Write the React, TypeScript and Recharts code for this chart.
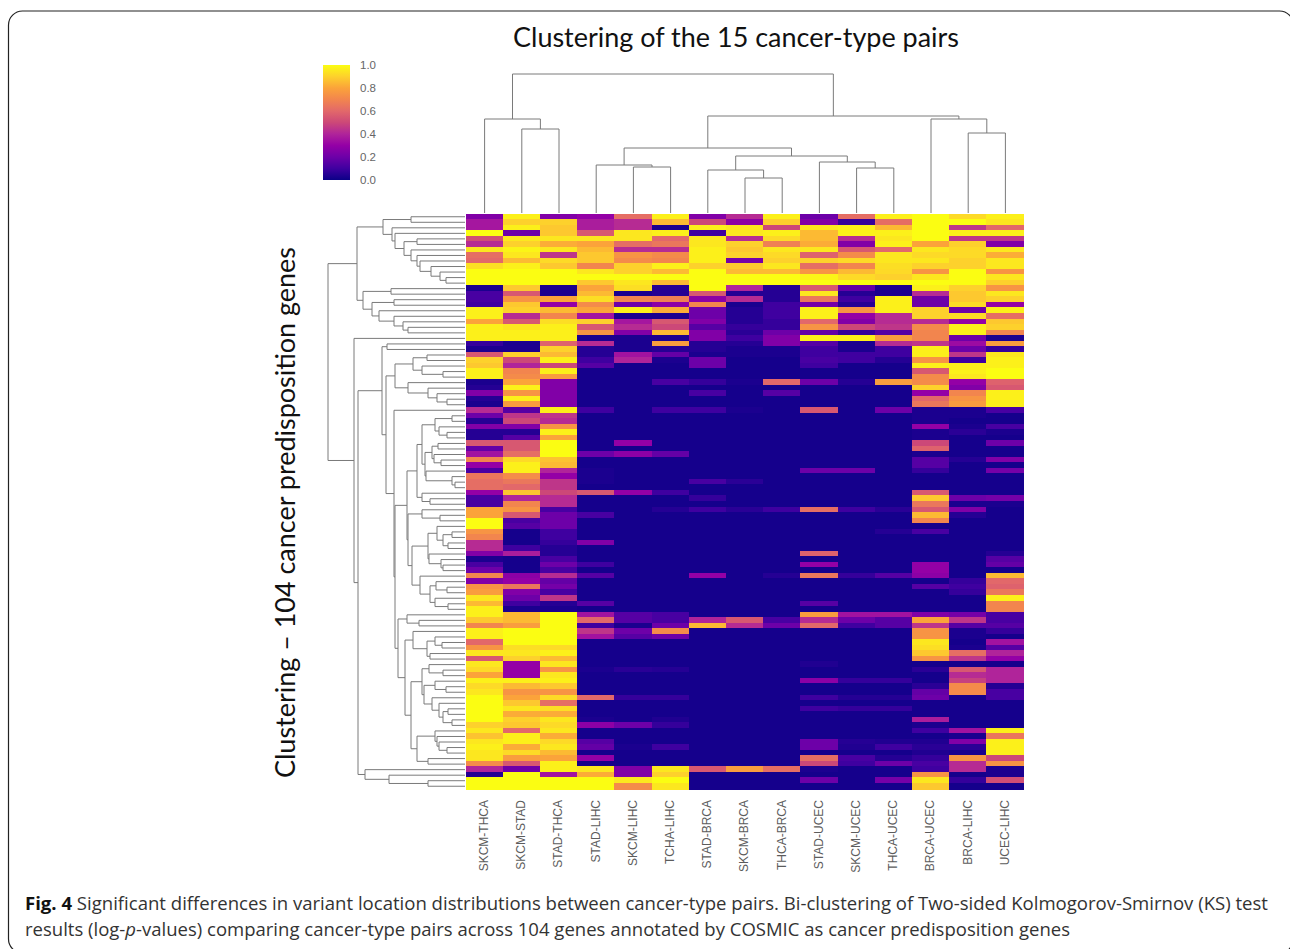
import { Bar, BarChart, Cell, Scatter, ScatterChart, XAxis, YAxis } from "recharts";

// pair names, left to right
const pairs = [
  "SKCM-THCA", "SKCM-STAD", "STAD-THCA", "STAD-LIHC", "SKCM-LIHC",
  "TCHA-LIHC", "STAD-BRCA", "SKCM-BRCA", "THCA-BRCA", "STAD-UCEC",
  "SKCM-UCEC", "THCA-UCEC", "BRCA-UCEC", "BRCA-LIHC", "UCEC-LIHC",
];

// one array per pair, 104 genes top to bottom
const skcmThca = [
  .25,.36,.36,1,.52,.42,.95,.62,.6,.93,1,1,1,.03,.12,.12,.1,.97,.97,.8,.97,.97,.97,.08,.03,.55,
  .9,.88,.97,.97,.03,.05,.25,.05,.03,.42,.2,.05,.25,.05,.05,.55,.18,.35,.7,.3,.12,.65,.62,.62,.3,.12,
  .12,.8,.8,1,1,.75,.7,.42,.42,.25,.03,.12,.2,.7,.25,.75,.78,.95,.85,.97,.97,.88,.7,.97,.97,.6,
  .75,.95,.55,.95,.92,.8,.97,.92,.95,1,1,1,1,1,.9,.95,.87,.95,.97,.95,.95,.72,.4,.05,1,1,
];
const skcmStad = [
  .97,.9,.97,.2,.95,.9,.98,.95,.85,.97,1,1,1,.88,.55,.75,.88,.9,.42,.55,.95,.97,.97,.03,.03,.9,
  .5,.4,.7,.72,.8,.97,.75,.97,.78,.15,.45,.5,.25,.05,.15,.55,.55,.62,.92,.97,.97,.72,.65,.6,.87,.4,
  .7,.75,.55,.12,.15,.02,.02,.02,.1,.38,.02,.02,.02,.28,.3,.65,.25,.2,.1,.03,.85,.85,.78,1,1,1,
  .93,.95,.9,.3,.3,.3,.97,.85,.75,.8,.88,.95,.82,.9,.88,.6,.97,.97,.82,.92,.78,.55,.2,1,1,1,
];
const stadThca = [
  .25,.9,.88,.88,.95,.82,.95,.45,.92,.88,1,1,1,.03,.03,.8,.3,.85,.7,.93,.97,.97,.97,.58,.9,.85,
  .97,.5,.97,.78,.25,.25,.25,.25,.25,.97,.45,.42,.75,.97,.8,1,1,1,.87,.85,.4,.3,.45,.45,.5,.42,
  .42,.12,.2,.2,.2,.1,.1,.08,.05,.05,.12,.2,.12,.42,.18,.22,.12,.45,.05,.03,1,1,1,1,1,1,
  .92,.97,.85,.95,.75,.95,.97,.88,.75,.92,.62,.93,.82,.95,.92,.95,.82,.92,.95,.85,.8,.97,.97,.35,1,1,
];
const stadLihc = [
  .3,.38,.38,.55,.95,.8,.85,.88,.88,.7,.95,1,.88,.8,.85,.93,.72,.8,.35,.9,.55,.75,.03,.42,.05,.05,
  .1,.15,.02,.02,.02,.02,.02,.02,.02,.1,.02,.02,.02,.02,.02,.02,.02,.2,.02,.02,.03,.03,.03,.02,.55,.02,
  .02,.02,.12,.02,.02,.02,.02,.25,.02,.02,.02,.1,.02,.15,.02,.02,.02,.02,.15,.02,.35,.6,.1,.45,.35,.02,
  .02,.02,.02,.02,.03,.02,.02,.02,.02,.6,.02,.02,.02,.03,.28,.02,.02,.15,.18,.02,.3,.02,.95,.82,1,1,
];
const skcmLihc = [
  .62,.42,.42,.95,.95,.62,.42,.75,.72,.9,.9,1,.95,.93,.03,.7,.2,.97,.03,.36,.42,.25,.03,.03,.03,.35,
  .4,.02,.02,.02,.02,.02,.02,.02,.02,.02,.02,.02,.02,.02,.02,.3,.02,.28,.02,.02,.02,.02,.02,.02,.3,.02,
  .02,.02,.02,.02,.02,.02,.02,.02,.02,.02,.02,.02,.02,.02,.02,.02,.02,.02,.02,.02,.15,.15,.03,.2,.15,.02,
  .02,.02,.02,.02,.06,.02,.02,.02,.02,.08,.02,.02,.02,.02,.2,.02,.02,.02,.03,.02,.02,.02,.25,.25,.95,.72,
];
const tchaLihc = [
  .97,.85,.03,.97,.6,.65,.42,.72,.7,.97,.85,1,.85,.05,.05,.68,.28,.82,.03,.55,.5,.85,.03,.78,.05,.18,
  .03,.02,.02,.02,.12,.02,.02,.02,.02,.1,.02,.02,.02,.02,.02,.02,.02,.18,.02,.02,.02,.02,.02,.02,.1,.02,
  .02,.05,.02,.02,.02,.02,.02,.02,.02,.02,.02,.02,.02,.02,.02,.02,.02,.02,.02,.02,.12,.12,.2,.72,.2,.02,
  .02,.02,.02,.02,.05,.02,.02,.02,.02,.08,.02,.02,.02,.04,.08,.02,.02,.02,.1,.02,.02,.02,.95,.9,1,.95,
];
const stadBrca = [
  .25,.5,.97,.1,.95,.95,.97,.97,.97,.9,1,1,1,1,.55,.28,.7,.2,.2,.25,.15,.25,.25,.05,.05,.03,
  .2,.2,.02,.02,.08,.02,.12,.02,.02,.1,.02,.02,.02,.02,.02,.02,.02,.02,.02,.02,.02,.02,.12,.02,.02,.08,
  .02,.1,.02,.02,.02,.02,.02,.02,.02,.02,.02,.02,.02,.3,.02,.02,.02,.02,.02,.02,.02,.4,.85,.02,.02,.02,
  .02,.02,.02,.02,.02,.02,.02,.02,.02,.02,.02,.02,.02,.02,.02,.02,.02,.02,.02,.02,.02,.02,.55,.02,.02,.02,
];
const skcmBrca = [
  .42,.28,.95,.95,.42,.9,.88,.9,.22,.88,.85,1,1,.4,.05,.42,.03,.05,.05,.05,.08,.06,.1,.05,.03,.03,
  .02,.02,.02,.02,.03,.02,.02,.02,.02,.03,.02,.02,.02,.02,.02,.02,.02,.02,.02,.02,.02,.02,.06,.02,.02,.02,
  .02,.06,.02,.02,.02,.02,.02,.02,.02,.02,.02,.02,.02,.02,.02,.02,.02,.02,.02,.02,.02,.55,.42,.02,.02,.02,
  .02,.02,.02,.02,.02,.02,.02,.02,.02,.02,.02,.02,.02,.02,.02,.02,.02,.02,.02,.02,.02,.02,.78,.02,.02,.02,
];
const thcaBrca = [
  .97,.9,.5,.97,.92,.68,.95,.92,.9,.95,.85,1,1,.05,.05,.05,.1,.1,.1,.08,.08,.2,.25,.25,.03,.03,
  .02,.02,.02,.02,.6,.02,.15,.02,.02,.02,.02,.02,.02,.02,.02,.02,.02,.02,.02,.02,.02,.02,.02,.02,.02,.02,
  .02,.1,.02,.02,.02,.02,.02,.02,.02,.02,.02,.02,.02,.05,.02,.02,.02,.02,.02,.02,.02,.12,.2,.02,.02,.02,
  .02,.02,.02,.02,.02,.02,.02,.02,.02,.02,.02,.02,.02,.02,.02,.02,.02,.02,.02,.02,.02,.02,.62,.02,.02,.02,
];
const stadUcec = [
  .2,.25,.95,.85,.85,.82,.95,.58,.9,.62,.75,.98,1,.55,.95,.65,.22,.97,.97,.6,.75,.18,.97,.15,.1,.1,
  .12,.1,.02,.02,.2,.02,.02,.02,.02,.55,.02,.02,.02,.02,.02,.02,.02,.02,.02,.02,.2,.02,.02,.02,.02,.02,
  .02,.62,.02,.02,.02,.02,.02,.02,.02,.58,.02,.3,.02,.65,.02,.02,.02,.02,.15,.02,.78,.42,.6,.02,.02,.02,
  .02,.02,.02,.04,.02,.02,.28,.02,.02,.1,.02,.1,.02,.02,.02,.02,.02,.2,.2,.02,.62,.5,.03,.02,.2,.02,
];
const skcmUcec = [
  .62,.08,.97,.97,.42,.25,.55,.72,.92,.7,.85,.92,1,.18,.05,.1,.05,.75,.3,.25,.5,.08,.97,.03,.03,.1,
  .1,.02,.02,.02,.05,.02,.02,.02,.02,.02,.02,.02,.02,.02,.02,.02,.02,.02,.02,.02,.2,.02,.02,.02,.02,.02,
  .02,.1,.02,.02,.02,.02,.02,.02,.02,.02,.02,.02,.02,.08,.02,.02,.02,.02,.02,.02,.35,.2,.1,.02,.02,.02,
  .02,.02,.02,.02,.02,.02,.08,.02,.02,.05,.02,.08,.02,.02,.02,.02,.02,.05,.04,.02,.12,.1,.02,.02,.02,.02,
];
const thcaUcec = [
  .97,.62,.85,.97,.95,.97,.6,.95,.95,.93,.92,.9,1,.03,.03,.97,.97,.97,.42,.42,.45,.15,.78,.42,.1,.1,
  .05,.02,.02,.02,.78,.02,.02,.02,.02,.2,.02,.02,.02,.02,.02,.02,.02,.02,.02,.02,.02,.02,.02,.02,.02,.02,
  .02,.06,.02,.02,.02,.05,.02,.02,.02,.02,.02,.02,.02,.15,.02,.02,.02,.02,.02,.02,.35,.15,.15,.02,.02,.02,
  .02,.02,.02,.02,.02,.02,.08,.02,.02,.05,.02,.08,.02,.02,.02,.02,.02,.04,.1,.02,.05,.2,.02,.02,.22,.02,
];
const brcaUcec = [
  1,1,1,1,1,.8,.95,.92,.95,.9,.75,.95,1,.97,.42,.2,.2,.9,.9,.42,.72,.7,.7,.45,.97,.97,
  .75,.97,.55,.72,.72,.9,.3,.6,.65,.03,.03,.03,.3,.03,.03,.5,.58,.03,.15,.15,.08,.02,.02,.02,.55,.88,
  .65,.55,.85,.7,.02,.12,.02,.02,.02,.02,.02,.3,.3,.28,.02,.15,.02,.02,.02,.02,.25,.8,.45,.75,.75,.95,
  .93,.88,.75,.02,.06,.02,.02,.06,.18,.2,.02,.02,.02,.38,.03,.1,.02,.04,.06,.04,.08,.12,.1,.75,.95,.88,
];
const brcaLihc = [
  .92,1,.45,.97,.45,.9,.92,.92,.9,.9,1,1,1,.9,.88,.88,.92,.2,.92,.3,.97,.97,.2,.33,.2,.45,
  .1,.97,.97,.95,.3,.25,.7,.75,.78,.03,.03,.02,.03,.06,.02,.02,.02,.02,.05,.02,.02,.02,.02,.02,.02,.2,
  .03,.25,.05,.02,.02,.02,.02,.02,.02,.02,.02,.02,.02,.02,.08,.1,.08,.02,.02,.02,.22,.45,.15,.03,.03,.02,
  .03,.62,.45,.02,.55,.42,.48,.72,.72,.02,.02,.02,.02,.02,.02,.35,.03,.25,.06,.03,.75,.42,.42,.02,.08,.02,
];
const ucecLihc = [
  .97,.95,.6,.97,.45,.25,.95,.82,.95,.95,.75,.95,.9,.75,.95,.9,.3,.97,.62,.88,.9,.7,.03,.78,.08,.95,
  .97,.97,1,1,.58,.55,.97,.97,.97,.12,.02,.02,.12,.03,.02,.2,.02,.02,.25,.02,.22,.02,.02,.02,.02,.22,
  .03,.02,.02,.02,.02,.02,.02,.02,.02,.05,.15,.18,.02,.85,.6,.58,.65,.97,.7,.7,.12,.12,.15,.08,.02,.35,
  .15,.4,.3,.02,.4,.4,.4,.05,.12,.12,.02,.02,.02,.02,.02,.97,.65,.97,.97,.97,.5,.75,.03,.03,.52,.02,
];

const columns = [
  skcmThca, skcmStad, stadThca, stadLihc, skcmLihc, tchaLihc, stadBrca, skcmBrca,
  thcaBrca, stadUcec, skcmUcec, thcaUcec, brcaUcec, brcaLihc, ucecLihc,
];

// dendrograms as nested [distance, childA, childB], a plain number is a leaf index
type Tree = number | [number, Tree, Tree];

const pairTree: Tree = [140,
  [95, 0, [85, 1, 2]],
  [98,
    [66,
      [49, 3, [47, 4, 5]],
      [58, [44, 6, [36, 7, 8]], [52, 9, [46, 10, 11]]],
    ],
    [95, 12, [81, 13, 14]],
  ],
];

const geneTreeUpperA: Tree = [83, [55, 0, 1],
  [74, 2, [71, 3, [62, [49, 4, 5], [55, 6, [49, 7, [46, 8, [35, 9, [26, 10, [20, 11, 12]]]]]]]]],
];
const geneTreeUpperB: Tree = [103, [75, 13, 14],
  [94, [72, 15, 16], [87, 17, [72, 18, [63, 19, [58, 20, 21]]]]],
];
const geneTreeMidA: Tree = [71,
  [53, [39, 25, 26], [44, 27, [23, 28, 29]]],
  [58, 30, [38, 31, [29, 32, [19, 33, 34]]]],
];
const geneTreeMidB: Tree = [59,
  [49,
    [44,
      [31, [14, 36, 37], [27, 38, [19, 39, 40]]],
      [41,
        [34, [28, 41, 42], [32, 43, [25, 44, 45]]],
        [40, 46, [14, 47, [11, 48, 49]]],
      ],
    ],
    [44, 50, [36, 51, 52]],
  ],
  [58,
    [44, 53, [26, 54, 55]],
    [54,
      [38,
        [29, 56, [23, [14, 57, 58], [18, 59, 60]]],
        [37, 61, [25, 62, [23, 63, 64]]],
      ],
      [46, 65, [36, [30, 66, [19, 67, 68]], [31, 69, [18, 70, 71]]]],
    ],
  ],
];
const geneTreeMidC: Tree = [68,
  [59, 72, [47, 73, 74]],
  [61,
    [53, 75, [39, [31, 76, [24, 77, 78]], [36, 79, 80]]],
    [55,
      [44,
        [37, 81, [23, 82, 83]],
        [42,
          [31, 84, [20, 85, 86]],
          [34, 87, [27, 88, [23, [18, 89, 90], [14, 91, 92]]]],
        ],
      ],
      [49,
        [31, 93, [29, 94, [27, 95, [19, 96, 97]]]],
        [38, 98, 99],
      ],
    ],
  ],
];
const geneTree: Tree = [138,
  [109, geneTreeUpperA, geneTreeUpperB],
  [112, 22,
    [108,
      [84, [79, 23, 24], [80, geneTreeMidA, [72, 35, [71, geneTreeMidB, geneTreeMidC]]]],
      [101, 100, [77, 101, [38, 102, 103]]],
    ],
  ],
];

const legendTicks = [0, 0.2, 0.4, 0.6, 0.8, 1];

const rampStops = [
  "#0b0087", "#3f00a0", "#6d00a8", "#9400a6", "#b0249a", "#cc4878",
  "#e2686a", "#f2854e", "#fba33a", "#fdd12c", "#fbfd12",
];

function hex(c: string, i: number) {
  return parseInt(c.slice(1 + i * 2, 3 + i * 2), 16);
}

function ramp(v: number) {
  const p = Math.min(Math.max(v, 0), 1) * (rampStops.length - 1);
  const i = Math.min(Math.floor(p), rampStops.length - 2);
  const t = p - i;
  const rgb = [0, 1, 2].map((k) =>
    Math.round(hex(rampStops[i], k) * (1 - t) + hex(rampStops[i + 1], k) * t)
  );
  return `rgb(${rgb.join(",")})`;
}

// flatten a tree into U shaped links; pos is along the leaves, dist is the merge height
type Link = { a: number; da: number; b: number; db: number; d: number };

function flatten(t: Tree, out: Link[]): { pos: number; dist: number } {
  if (typeof t === "number") return { pos: t + 0.5, dist: 1 };
  const [d, ca, cb] = t;
  const l = flatten(ca, out);
  const r = flatten(cb, out);
  out.push({ a: l.pos, da: l.dist, b: r.pos, db: r.dist, d });
  return { pos: (l.pos + r.pos) / 2, dist: d };
}

const noDot = () => <g />;
const lineColor = "#7a7a7a";

function TopDendrogram() {
  const links: Link[] = [];
  flatten(pairTree, links);
  return (
    <ScatterChart width={558} height={154} margin={{ top: 0, right: 0, bottom: 0, left: 0 }}>
      <XAxis type="number" dataKey="x" domain={[0, 15]} hide />
      <YAxis type="number" dataKey="y" domain={[0, 154]} hide />
      {links.map((k, i) => (
        <Scatter
          key={i}
          data={[
            { x: k.a, y: k.da },
            { x: k.a, y: k.d },
            { x: k.b, y: k.d },
            { x: k.b, y: k.db },
          ]}
          line={{ stroke: lineColor, strokeWidth: 1 }}
          shape={noDot}
          isAnimationActive={false}
        />
      ))}
    </ScatterChart>
  );
}

function LeftDendrogram() {
  const links: Link[] = [];
  flatten(geneTree, links);
  return (
    <ScatterChart width={146} height={575} margin={{ top: 0, right: 0, bottom: 0, left: 0 }}>
      <XAxis type="number" dataKey="x" domain={[0, 146]} reversed hide />
      <YAxis type="number" dataKey="y" domain={[0, 104]} reversed hide />
      {links.map((k, i) => (
        <Scatter
          key={i}
          data={[
            { x: k.da, y: k.a },
            { x: k.d, y: k.a },
            { x: k.d, y: k.b },
            { x: k.db, y: k.b },
          ]}
          line={{ stroke: lineColor, strokeWidth: 1 }}
          shape={noDot}
          isAnimationActive={false}
        />
      ))}
    </ScatterChart>
  );
}

// pair label, read bottom to top and hanging from just under the heatmap
function PairTick({ x, y, payload }: any) {
  return (
    <text
      transform={`translate(${x + 3.3},${y + 3}) rotate(-90)`}
      textAnchor="end"
      fontSize={12}
      fill="#5c5c5c"
      fontFamily="Liberation Sans"
    >
      {payload.value}
    </text>
  );
}

function Heatmap() {
  const rowKeys = skcmThca.map((_, r) => `g${r}`);
  const table = pairs.map((pair) => {
    const row: Record<string, string | number> = { pair };
    rowKeys.forEach((k) => (row[k] = 1));
    return row;
  });
  return (
    <BarChart
      width={558}
      height={665}
      data={table}
      barCategoryGap={0}
      barGap={0}
      margin={{ top: 0, right: 0, bottom: 0, left: 0 }}
    >
      <XAxis dataKey="pair" interval={0} height={90} tickLine={false} axisLine={false} tick={PairTick} />
      <YAxis type="number" domain={[0, 104]} reversed hide />
      {rowKeys.map((k, r) => (
        <Bar key={k} dataKey={k} stackId="genes" isAnimationActive={false}>
          {columns.map((col, c) => (
            <Cell
              key={c}
              fill={ramp(col[r])}
              stroke={ramp(col[r])}
              strokeWidth={1}
              shapeRendering="crispEdges"
            />
          ))}
        </Bar>
      ))}
    </BarChart>
  );
}

function Legend() {
  return (
    <BarChart
      width={70}
      height={135}
      data={[{ name: "scale", top: 1 }]}
      barCategoryGap={0}
      margin={{ top: 10, right: 0, bottom: 10, left: 0 }}
    >
      <defs>
        <linearGradient id="plasmaRamp" x1="0" y1="1" x2="0" y2="0">
          {rampStops.map((c, i) => (
            <stop key={i} offset={`${i * 10}%`} stopColor={c} />
          ))}
        </linearGradient>
      </defs>
      <XAxis dataKey="name" hide />
      <YAxis
        orientation="right"
        type="number"
        domain={[0, 1]}
        ticks={legendTicks}
        width={43}
        tickLine={false}
        axisLine={false}
        tickMargin={4}
        tickFormatter={(v: number) => v.toFixed(1)}
        tick={{ fontSize: 11.5, fill: "#666", fontFamily: "Liberation Sans" }}
      />
      <Bar dataKey="top" fill="url(#plasmaRamp)" isAnimationActive={false} />
    </BarChart>
  );
}

const box = (left: number, top: number): React.CSSProperties => ({ position: "absolute", left, top });

export default function App() {
  return (
    <div
      style={{
        position: "absolute",
        left: 0,
        top: 0,
        width: 1290,
        height: 949,
        background: "#fff",
        overflow: "hidden",
      }}
    >
      <svg width={1290} height={949} style={box(0, 0)}>
        <rect x={8.5} y={11} width={1285} height={942} rx={14} fill="none" stroke="#222" strokeWidth={1.2} />
        <text x={513} y={47} fontFamily="Lato" fontSize={27} fill="#111" textLength={446} lengthAdjust="spacingAndGlyphs">
          Clustering of the 15 cancer-type pairs
        </text>
        <text
          transform="translate(295,778) rotate(-90)"
          fontFamily="Lato"
          fontSize={27}
          fill="#111"
          textLength={531}
          lengthAdjust="spacingAndGlyphs"
        >
          Clustering – 104 cancer predisposition genes
        </text>
        <text x={25} y={910} fontFamily="Open Sans" fontSize={17.5} fill="#333" textLength={1243} lengthAdjust="spacingAndGlyphs">
          <tspan fontWeight="bold" fill="#111">Fig. 4</tspan> Significant differences in variant location distributions
          between cancer-type pairs. Bi-clustering of Two-sided Kolmogorov-Smirnov (KS) test
        </text>
        <text x={25} y={936} fontFamily="Open Sans" fontSize={17.5} fill="#333" textLength={1045} lengthAdjust="spacingAndGlyphs">
          results (log-<tspan fontStyle="italic">p</tspan>-values) comparing cancer-type pairs across 104 genes annotated
          by COSMIC as cancer predisposition genes
        </text>
      </svg>
      <div style={box(466, 60)}>
        <TopDendrogram />
      </div>
      <div style={box(320, 214)}>
        <LeftDendrogram />
      </div>
      <div style={box(466, 214)}>
        <Heatmap />
      </div>
      <div style={box(323, 54.5)}>
        <Legend />
      </div>
    </div>
  );
}
